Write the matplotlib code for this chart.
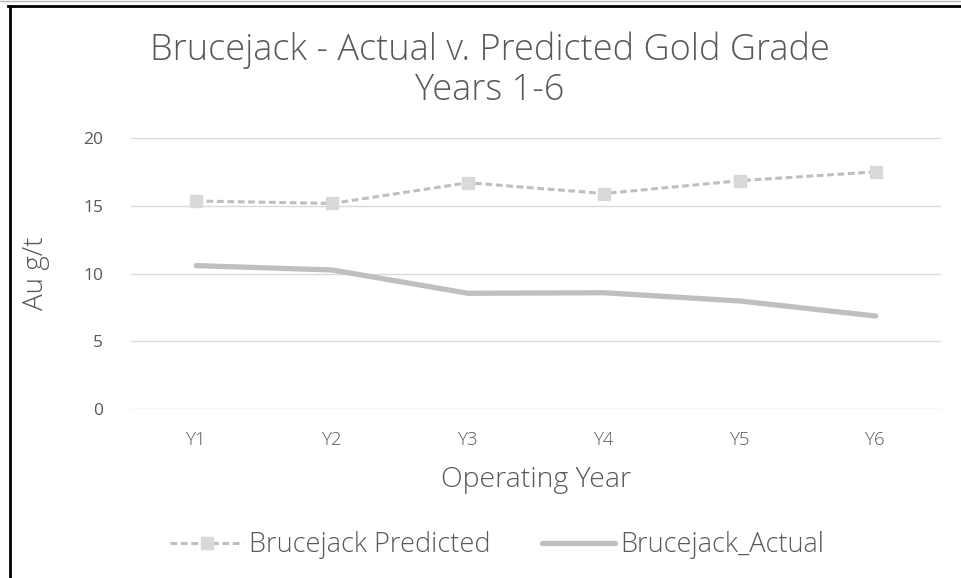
import numpy as np
import matplotlib.pyplot as plt
from matplotlib.lines import Line2D

# Data
years = ["Y1", "Y2", "Y3", "Y4", "Y5", "Y6"]
predicted = [15.35, 15.17, 16.7, 15.9, 16.85, 17.5]
actual = [10.58, 10.26, 8.54, 8.58, 7.97, 6.86]

txt = "#595959"
plt.rcParams['font.family'] = ['Open Sans', 'DejaVu Sans']

fig = plt.figure(figsize=(9.61, 5.78), dpi=100)
ax = fig.add_axes([131/961, 1 - 409/578, (941-131)/961, (409-138)/578])

x = np.arange(len(years))
ax.plot(x, predicted, color="#BFBFBF", lw=2.2, ls=(0, (2.2, 1.2)),
        marker="s", ms=8, mfc="#D9D9D9", mec="#D9D9D9",
        label="Brucejack Predicted", zorder=3)
ax.plot(x, actual, color="#BFBFBF", lw=3.8, solid_capstyle="round",
        label="Brucejack_Actual", zorder=3)

ax.set_xlim(-0.48, 5.48)
ax.set_ylim(0, 20)
ax.set_yticks([0, 5, 10, 15, 20])
ax.set_xticks(x)
ax.set_xticklabels(years, fontsize=13.5, fontweight="light")
ax.grid(axis="y", color="#D9D9D9", lw=1)
ax.set_axisbelow(True)
for s in ax.spines.values():
    s.set_visible(False)
ax.tick_params(length=0, colors=txt)
ax.tick_params(axis="y", pad=20, labelsize=12.5)
ax.tick_params(axis="x", pad=16)

ax.set_xlabel("Operating Year", fontsize=20.5, color=txt, labelpad=12,
              fontweight="light")
ax.set_ylabel("Au g/t", fontsize=20, color=txt, labelpad=24,
              fontweight="light")

fig.text(490/961, 1 - 70/578, "Brucejack - Actual v. Predicted Gold Grade\nYears 1-6",
         ha="center", va="center", fontsize=26, color=txt, linespacing=1.1,
         fontweight="light")

fig.legend(loc="center", bbox_to_anchor=(497/961, 1 - 545/578), ncol=2,
           frameon=False, prop={"size": 19.5, "weight": "light"},
           labelcolor=txt, handlelength=2.7,
           handletextpad=0.2, columnspacing=1.9)

# outer frame lines as in the reference screenshot
fig.add_artist(Line2D([0, 1], [1 - 0.5/578, 1 - 0.5/578], color="#BBBBBB", lw=1))
fig.add_artist(Line2D([8/961, 1], [1 - 6/578, 1 - 6/578], color="black", lw=2))
fig.add_artist(Line2D([10/961, 10/961], [0, 1 - 6/578], color="black", lw=2))

fig.savefig("out.png", dpi=100)
